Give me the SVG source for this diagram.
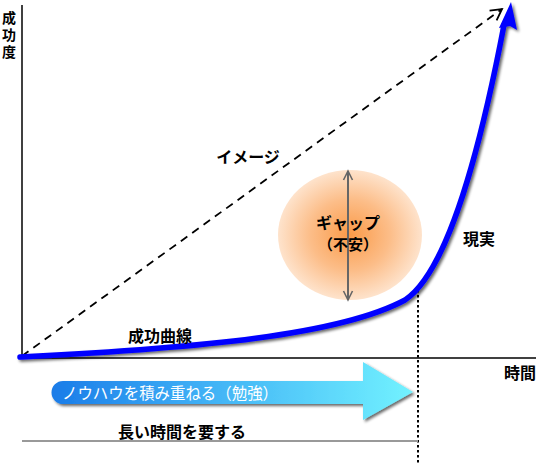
<svg xmlns="http://www.w3.org/2000/svg" width="536" height="465" viewBox="0 0 536 465">
<style>
.t{font-family:"Noto Sans CJK JP","Noto Sans CJK SC",sans-serif;font-weight:bold;fill:#000}
.ax{stroke:#000;stroke-width:1.5;fill:none}
</style>
<defs>
<radialGradient id="og" cx="0.5" cy="0.5" r="0.5">
<stop offset="0" stop-color="#fa9a48"/>
<stop offset="0.55" stop-color="#fcbd88"/>
<stop offset="1" stop-color="#fee3cc"/>
</radialGradient>
<linearGradient id="bg" x1="0" y1="0" x2="1" y2="0">
<stop offset="0" stop-color="#1a7ce8"/>
<stop offset="0.35" stop-color="#39a8f4"/>
<stop offset="1" stop-color="#72f2ff"/>
</linearGradient>
<filter id="sh" x="-10%" y="-10%" width="130%" height="130%">
<feGaussianBlur in="SourceAlpha" stdDeviation="1.5"/>
<feOffset dx="2" dy="2" result="b"/>
<feComponentTransfer><feFuncA type="linear" slope="0.6"/></feComponentTransfer>
<feMerge><feMergeNode/><feMergeNode in="SourceGraphic"/></feMerge>
</filter>
<marker id="open" markerWidth="14" markerHeight="14" refX="12" refY="7" orient="auto" markerUnits="userSpaceOnUse">
<path d="M1,1 L12,7 L1,13" fill="none" stroke="#000" stroke-width="1.8"/>
</marker>
<marker id="ga" markerWidth="12" markerHeight="12" refX="10" refY="6" orient="auto-start-reverse" markerUnits="userSpaceOnUse">
<path d="M1,1.5 L10,6 L1,10.5" fill="none" stroke="#666" stroke-width="1.6"/>
</marker>
</defs>

<g id="gap">
<ellipse cx="350" cy="235" rx="72" ry="65" fill="url(#og)"/>
</g>

<g id="axes">
<line class="ax" x1="22" y1="5" x2="22" y2="358"/>
<line class="ax" x1="22" y1="358" x2="536" y2="358"/>
</g>

<g id="connectors">
<line x1="22" y1="356" x2="502" y2="9" stroke="#000" stroke-width="1.8" stroke-dasharray="8,6" marker-end="url(#open)"/>
<line x1="348" y1="171" x2="348" y2="300" stroke="#666" stroke-width="2" marker-start="url(#ga)" marker-end="url(#ga)"/>
<line x1="418" y1="290" x2="418" y2="465" stroke="#000" stroke-width="2" stroke-dasharray="2.5,2.5"/>
<line x1="22" y1="441" x2="418" y2="441" stroke="#999" stroke-width="2"/>
</g>

<g id="curve" filter="url(#sh)">
<path d="M20,357 C200,348 340,335 405,300 C450,270 482,140 504,25" fill="none" stroke="#0000ff" stroke-width="5.5" stroke-linecap="round"/>
<path d="M511,2 L517,30 L510,26 L499,28 Z" fill="#0000ff"/>
</g>

<g id="study" filter="url(#sh)">
<path d="M63,381 L363,381 L363,362 L413,392 L363,420 L363,404 L63,404 A11.5,11.5 0 0 1 63,381 Z" fill="url(#bg)"/>
</g>

<g id="labels">
<text class="t" x="9" y="11" font-size="14" letter-spacing="3" style="writing-mode:vertical-rl">成功度</text>
<text class="t" x="248" y="163" font-size="16" text-anchor="middle">イメージ</text>
<text class="t" x="348" y="229" font-size="16" text-anchor="middle">ギャップ</text>
<text class="t" x="348" y="250" font-size="15" text-anchor="middle">（不安）</text>
<text class="t" x="479" y="245" font-size="16" text-anchor="middle">現実</text>
<text class="t" x="160" y="342" font-size="16" text-anchor="middle">成功曲線</text>
<text class="t" x="520" y="379" font-size="16" text-anchor="middle">時間</text>
<text class="t" x="182" y="438" font-size="16" text-anchor="middle">長い時間を要する</text>
<text x="62" y="399" font-size="16" textLength="216" lengthAdjust="spacingAndGlyphs" style="font-family:'Noto Sans CJK JP','Noto Sans CJK SC',sans-serif;fill:#fff">ノウハウを積み重ねる（勉強）</text>
</g>
</svg>
